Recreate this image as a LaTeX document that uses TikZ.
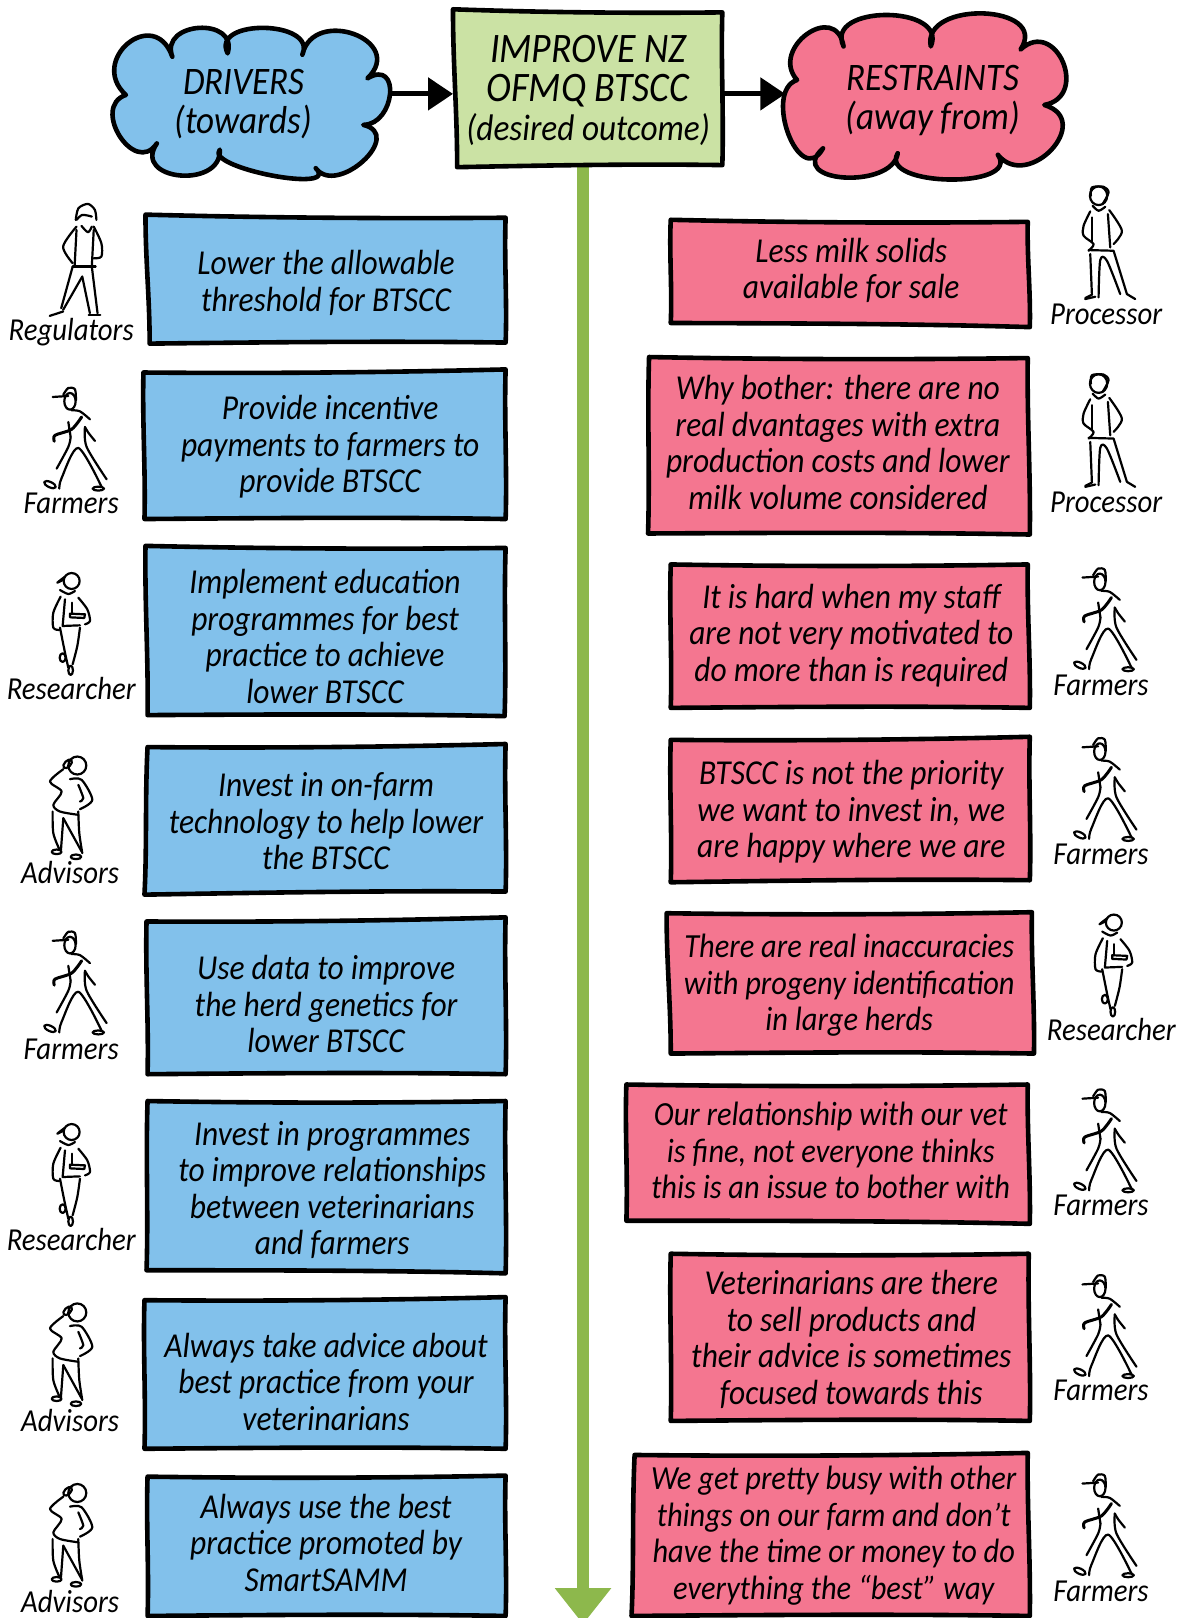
\documentclass[tikz,border=0pt]{standalone}
\usepackage{fontspec}
\usetikzlibrary{arrows.meta}
\newfontfamily\hand[FakeStretch=0.9]{Carlito}
\definecolor{blu}{HTML}{82C1EB}
\definecolor{pnk}{HTML}{F47690}
\definecolor{grn}{HTML}{CBE2A4}
\definecolor{arr}{HTML}{8DB84C}
\tikzset{
  wob/.style={line width=4.6pt,line join=round,draw=black},
  txt/.style={align=center,inner sep=0pt,font=\hand\itshape\fontsize{35}{36.5}\selectfont,text=black},
  txtsm/.style={txt,font=\hand\itshape\fontsize{33.8}{36.5}\selectfont},
  ttl/.style={align=center,inner sep=0pt,font=\hand\itshape\fontsize{39}{39}\selectfont,text=black},
  lab/.style={inner sep=0pt,font=\hand\itshape\fontsize{32}{32}\selectfont,text=black},
  fig/.style={line width=2.2pt,line cap=round,line join=round,draw=black},
  harrow/.style={line width=5pt,-{Triangle[length=25pt,width=32pt]}},
  varrow/.style={line width=12pt,draw=arr,-{Triangle[length=36pt,width=54pt]}}
}
% closed wobbly box: corners clockwise from top left
\newcommand\wbox[9]{\draw[wob,fill=#1] (#2,#3)
  .. controls ({#2+(#4-#2)*.33},{#3+(#5-#3)*.33+2}) and ({#2+(#4-#2)*.66},{#3+(#5-#3)*.66+2}) .. (#4,#5)
  .. controls ({#4+(#6-#4)*.33-1.5},{#5+(#7-#5)*.33}) and ({#4+(#6-#4)*.66+1.5},{#5+(#7-#5)*.66}) .. (#6,#7)
  .. controls ({#6+(#8-#6)*.33},{#7+(#9-#7)*.33-2}) and ({#6+(#8-#6)*.66},{#7+(#9-#7)*.66-1}) .. (#8,#9)
  .. controls ({#8+(#2-#8)*.33+1.5},{#9+(#3-#9)*.33}) and ({#8+(#2-#8)*.66-1.5},{#9+(#3-#9)*.66}) .. cycle;}
% one cloud lobe: from cusp (1,2) past peak (3,4) to cusp (5,6)
\newcommand\lobe[6]{.. controls ({#1+1.333*(#3-(#1+#5)/2)+.22*(#1-#5)},{#2+1.333*(#4-(#2+#6)/2)+.22*(#2-#6)}) and ({#5+1.333*(#3-(#1+#5)/2)-.22*(#1-#5)},{#6+1.333*(#4-(#2+#6)/2)-.22*(#2-#6)}) .. (#5,#6)}
\newcommand\farmerfig[2]{\begin{scope}[shift={(#1,#2)},scale=1/3.097]
  \draw[fig] (210,88) ellipse (17 and 25);
  \draw[fig] (158,75) -- (205,72);
  \draw[fig] plot[smooth] coordinates {(190,68) (205,48) (225,52) (228,85)};
  \draw[fig] plot[smooth] coordinates {(215,115) (240,118) (270,142)};
  \draw[fig,line width=3pt] plot[smooth] coordinates {(245,135) (215,172) (165,190) (163,208)};
  \draw[fig] (205,150) -- (212,195);
  \draw[fig] plot[smooth] coordinates {(255,165) (265,182) (285,207)};
  \draw[fig] plot[smooth] coordinates {(255,165) (260,225) (320,322)};
  \draw[fig] plot[smooth] coordinates {(212,195) (205,225) (170,290)};
  \draw[fig] plot[smooth] coordinates {(178,350) (185,318) (235,228) (305,345)};
  \draw[fig,rotate around={-25:(150,338)}] (150,338) ellipse (19 and 8);
  \draw[fig] (295,350) ellipse (17 and 6);
\end{scope}}
\newcommand\researcherfig[2]{\begin{scope}[shift={(#1,#2)},scale=1/3.097]
  \draw[fig] (215,635) circle (24);
  \draw[fig] plot[smooth] coordinates {(195,622) (172,640) (192,630)};
  \draw[fig] plot[smooth] coordinates {(180,662) (205,674) (225,665)};
  \draw[fig] plot[smooth] coordinates {(182,682) (160,730) (160,775) (178,782)};
  \draw[fig] plot[smooth] coordinates {(235,685) (262,720) (270,755) (255,765)};
  \draw[fig] (210,733) -- (255,735) -- (253,746) -- (210,744) -- cycle;
  \draw[fig] (195,690) -- (188,770) -- (240,768);
  \draw[fig] (215,700) -- (215,733);
  \draw[fig] plot[smooth] coordinates {(180,775) (195,850) (205,895)};
  \draw[fig] plot[smooth] coordinates {(240,775) (232,830) (218,885)};
  \draw[fig] (212,903) ellipse (7 and 14);
  \draw[fig] (188,865) ellipse (9 and 13);
\end{scope}}
\newcommand\advisorfig[2]{\begin{scope}[shift={(#1,#2)},scale=1/3.097]
  \draw[fig] (232,77) circle (27);
  \draw[fig,rotate around={45:(203,72)}] (203,72) ellipse (16 and 9);
  \draw[fig] plot[smooth] coordinates {(190,88) (150,125) (185,155) (160,195) (180,215) (235,225)};
  \draw[fig] plot[smooth] coordinates {(210,118) (245,120) (277,180) (240,208)};
  \draw[fig] plot[smooth] coordinates {(235,135) (250,175) (240,185)};
  \draw[fig] plot[smooth] coordinates {(158,215) (160,280) (178,328)};
  \draw[fig] (190,235) -- (245,335);
  \draw[fig] (190,235) -- (183,330);
  \draw[fig] plot[smooth] coordinates {(235,215) (238,280) (247,340)};
  \draw[fig] (170,336) ellipse (15 and 7);
  \draw[fig] (228,351) ellipse (16 and 7);
\end{scope}}
\newcommand\processorfig[2]{\begin{scope}[shift={(#1,#2)},scale=1/3.097]
  \draw[fig] (180,75) ellipse (26 and 28);
  \draw[fig] plot[smooth] coordinates {(157,75) (160,50) (195,48) (210,65) (192,100)};
  \draw[fig] plot[smooth] coordinates {(162,105) (180,120) (200,108)};
  \draw[fig] plot[smooth] coordinates {(155,122) (135,165) (135,195) (165,220) (150,240)};
  \draw[fig] (160,140) -- (160,215);
  \draw[fig] plot[smooth] coordinates {(212,118) (250,180) (225,220)};
  \draw[fig] (208,130) -- (215,230);
  \draw[fig] (150,238) -- (225,240) -- (265,370) -- (290,385);
  \draw[fig] (155,250) -- (160,372) -- (140,382);
  \draw[fig] (140,385) -- (170,378);
  \draw[fig] plot[smooth] coordinates {(180,380) (185,268) (205,270) (245,370)};
\end{scope}}
\newcommand\regulatorfig{\begin{scope}[xscale=1/2.697,yscale=1/3.097]
  \draw[fig] plot[smooth] coordinates {(198,660) (205,625) (230,612) (248,630) (252,660)};
  \draw[fig] plot[smooth] coordinates {(200,660) (215,645) (240,650)};
  \draw[fig] plot[smooth] coordinates {(213,678) (230,697) (240,680)};
  \draw[fig] plot[smooth] coordinates {(200,680) (165,740) (190,790)};
  \draw[fig] (200,690) -- (195,800);
  \draw[fig] plot[smooth] coordinates {(245,680) (265,730) (265,770) (245,775)};
  \draw[fig] (245,690) -- (240,800);
  \draw[fig] (190,800) -- (250,800);
  \draw[fig] (190,800) -- (160,925);
  \draw[fig] (240,800) -- (255,940);
  \draw[fig] (215,830) -- (165,930);
  \draw[fig] (215,830) -- (235,940);
  \draw[fig] (130,948) -- (165,935);
  \draw[fig] (232,945) -- (262,945);
\end{scope}}
\begin{document}
\begin{tikzpicture}[x=1.03226pt,y=-1.03226pt]
\useasboundingbox (0,0) rectangle (1147,1568);
% coordinates for the connectors
\coordinate (drvE) at (376,91);
\coordinate (goalW) at (439,91);
\coordinate (goalE) at (700,91);
\coordinate (resW) at (761,91);
\coordinate (goalS) at (565,160);
\coordinate (axisEnd) at (565,1574);
\draw[varrow] (goalS) -- (axisEnd);
% clouds
\draw[wob,fill=blu] (122,92) \lobe{122}{92}{124}{42}{167}{55} \lobe{167}{55}{193}{27}{220.6}{51.7} \lobe{220.6}{51.7}{256}{27}{293}{53} \lobe{293}{53}{343}{33}{356}{76} \lobe{356}{76}{378}{91}{352}{121} \lobe{352}{121}{352}{156}{306}{163} \lobe{306}{163}{263}{170}{213}{145} \lobe{213}{145}{174}{170}{152}{139} \lobe{152}{139}{116}{132}{122}{92} -- cycle;
\draw[wob,fill=pnk] (772.4,77.5) \lobe{772.4}{77.5}{782}{33}{817.5}{45} \lobe{817.5}{45}{859}{14.5}{902}{45} \lobe{902}{45}{953}{13}{989}{48} \lobe{989}{48}{1030}{60}{1012}{101.7} \lobe{1012}{101.7}{1019}{145}{967}{150} \lobe{967}{150}{920}{174}{870}{148.5} \lobe{870}{148.5}{818}{172}{797.6}{143.7} \lobe{797.6}{143.7}{764}{130}{772.4}{77.5} -- cycle;
\node[ttl] (drv) at (236,101) {DRIVERS\\(towards)};
\node[ttl] (res) at (904,97) {RESTRAINTS\\(away from)};
% goal
\wbox{grn}{439}{9}{700}{12}{700}{160}{443}{162}
\node[ttl] (goal) at (570,88) {{\fontsize{42}{38}\selectfont IMPROVE NZ}\\{\fontsize{42}{38}\selectfont OFMQ BTSCC}\\{\fontsize{37}{38}\selectfont (desired outcome)}};
\draw[harrow] (drvE) -- (goalW);
\draw[harrow] (goalE) -- (resW);
% left boxes
\wbox{blu}{141}{208}{490}{211}{490}{332}{145}{333}
\wbox{blu}{139}{361}{490}{358}{490}{503}{140}{503}
\wbox{blu}{141}{529}{490}{531}{489}{694}{143}{693}
\wbox{blu}{143}{724}{490}{721}{490}{864}{140}{867}
\wbox{blu}{142}{893}{490}{889}{490}{1041}{143}{1041}
\wbox{blu}{143}{1067}{490}{1067}{490}{1234}{142}{1231}
\wbox{blu}{140}{1260}{490}{1257}{490}{1404}{140}{1404}
\wbox{blu}{143}{1431}{490}{1430}{490}{1566}{143}{1566}
\node[txt] (l1) at (316,274) {Lower the allowable\\threshold for BTSCC};
\node[txt] (l2) at (320,433) {Provide incentive\\payments to farmers to\\provide BTSCC};
\node[txt] (l3) at (315,617) {Implement education\\programmes for best\\practice to achieve\\lower BTSCC};
\node[txt] (l4) at (316,796) {Invest in on-farm\\technology to help lower\\the BTSCC};
\node[txt] (l5) at (316,973) {Use data to improve\\the herd genetics for\\lower BTSCC};
\node[txt] (l6) at (322,1153) {Invest in programmes\\to improve relationships\\between veterinarians\\and farmers};
\node[txt] (l7) at (316,1339) {Always take advice about\\best practice from your\\veterinarians};
\node[txt] (l8) at (316,1495) {Always use the best\\practice promoted by\\SmartSAMM};
% right boxes
\wbox{pnk}{650}{213}{996}{215}{998}{317}{650}{313}
\wbox{pnk}{629}{346}{996}{347}{998}{518}{628}{517}
\wbox{pnk}{650}{547}{996}{547}{998}{686}{650}{686}
\wbox{pnk}{650}{717}{998}{714}{998}{853}{650}{855}
\wbox{pnk}{646}{885}{1000}{884}{1002}{1021}{650}{1021}
\wbox{pnk}{607}{1051}{996}{1051}{998}{1186}{607}{1183}
\wbox{pnk}{650}{1215}{997}{1215}{998}{1377}{650}{1377}
\wbox{pnk}{615}{1410}{996}{1408}{998}{1566}{612}{1566}
\node[txt] (r1) at (825,262) {Less milk solids\\available for sale};
\node[txt] (r2) at (812,429) {Why bother: there are no\\real dvantages with extra\\production costs and lower\\milk volume considered};
\node[txt] (r3) at (825,616) {It is hard when my staff\\are not very motivated to\\do more than is required};
\node[txt] (r4) at (825,787) {BTSCC is not the priority\\we want to invest in, we\\are happy where we are};
\node[txtsm] (r5) at (823,955) {There are real inaccuracies\\with progeny identification\\in large herds};
\node[txtsm] (r6) at (805,1115) {Our relationship with our vet\\is fine, not everyone thinks\\this is an issue to bother with};
\node[txt] (r7) at (825,1298) {Veterinarians are there\\to sell products and\\their advice is sometimes\\focused towards this};
\node[txtsm] (r8) at (808,1488) {We get pretty busy with other\\things on our farm and don’t\\have the time or money to do\\everything the “best” way};
% people, left
\regulatorfig
\node[lab] (p1) at (69,322) {Regulators};
\farmerfig{0}{360.5}
\node[lab] (p2) at (69,488) {Farmers};
\researcherfig{0}{358}
\node[lab] (p3) at (69,667) {Researcher};
\advisorfig{0}{717}
\node[lab] (p4) at (68,846) {Advisors};
\farmerfig{0}{887.5}
\node[lab] (p5) at (69,1017) {Farmers};
\researcherfig{0}{892}
\node[lab] (p6) at (69,1201) {Researcher};
\advisorfig{0}{1247}
\node[lab] (p7) at (68,1377) {Advisors};
\advisorfig{0}{1422}
\node[lab] (p8) at (68,1552) {Advisors};
% people, right
\processorfig{1006.5}{165.5}
\node[lab] (q1) at (1072,305) {Processor};
\processorfig{1006.5}{347.5}
\node[lab] (q2) at (1072,487) {Processor};
\farmerfig{998}{535.5}
\node[lab] (q3) at (1067,664) {Farmers};
\farmerfig{998}{700}
\node[lab] (q4) at (1067,828) {Farmers};
\researcherfig{1010}{689}
\node[lab] (q5) at (1077,998) {Researcher};
\farmerfig{998}{1040.5}
\node[lab] (q6) at (1067,1168) {Farmers};
\farmerfig{998}{1220.5}
\node[lab] (q7) at (1067,1347) {Farmers};
\farmerfig{998}{1413.5}
\node[lab] (q8) at (1067,1542) {Farmers};
\end{tikzpicture}
\end{document}
